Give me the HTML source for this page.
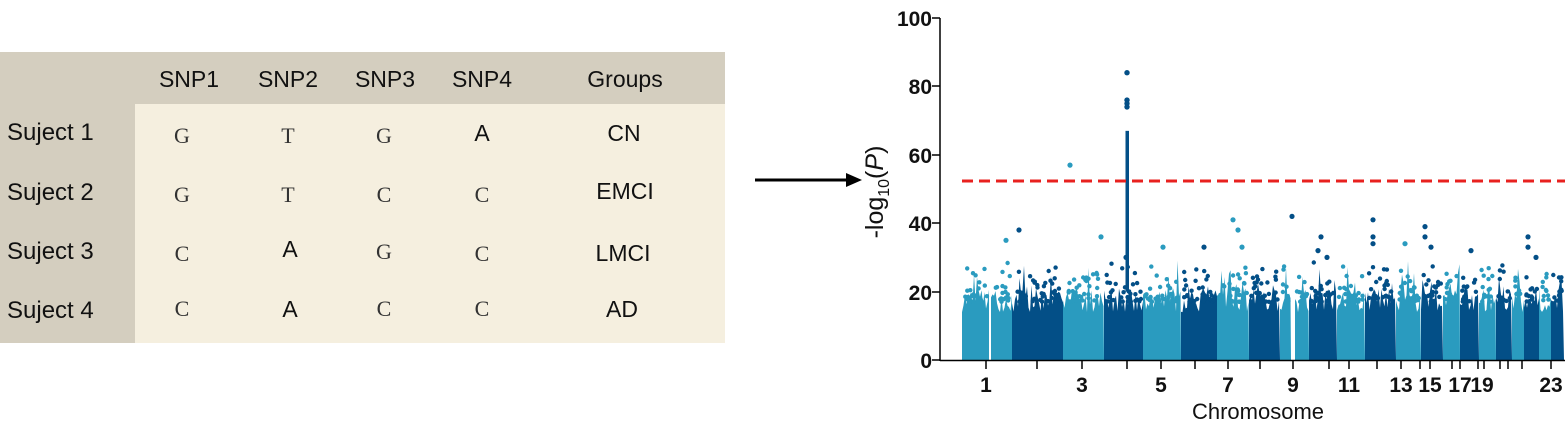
<!DOCTYPE html>
<html><head><meta charset="utf-8"><style>
body{margin:0;width:1565px;height:427px;background:#fff;position:relative;overflow:hidden;font-family:"Liberation Sans",sans-serif}
.t{position:absolute;font-size:23px;color:#111;transform:translateX(-50%);white-space:nowrap}
.l{position:absolute;font-size:24px;color:#111;white-space:nowrap;left:7px}
.s{font-family:"Liberation Serif",serif;font-size:22px;color:#333}
</style></head><body>
<div style="position:absolute;left:0;top:52px;width:725px;height:291px;background:#d4cebf"></div>
<div style="position:absolute;left:135px;top:104px;width:590px;height:239px;background:#f5efdf"></div>
<div class="t" style="left:189px;top:66px">SNP1</div>
<div class="t" style="left:288px;top:66px">SNP2</div>
<div class="t" style="left:385px;top:66px">SNP3</div>
<div class="t" style="left:482px;top:66px">SNP4</div>
<div class="t" style="left:625px;top:66px">Groups</div>
<div class="l" style="top:119px">Suject 1</div>
<div class="l" style="top:179px">Suject 2</div>
<div class="l" style="top:238px">Suject 3</div>
<div class="l" style="top:297px">Suject 4</div>
<div class="t s" style="left:182px;top:123px">G</div><div class="t s" style="left:288px;top:123px">T</div><div class="t s" style="left:384px;top:123px">G</div><div class="t" style="left:482px;top:120px">A</div><div class="t" style="left:624px;top:120px">CN</div>
<div class="t s" style="left:182px;top:182px">G</div><div class="t s" style="left:288px;top:182px">T</div><div class="t s" style="left:384px;top:182px">C</div><div class="t s" style="left:482px;top:182px">C</div><div class="t" style="left:625px;top:178px">EMCI</div>
<div class="t s" style="left:182px;top:241px">C</div><div class="t" style="left:290px;top:236px">A</div><div class="t s" style="left:384px;top:239px">G</div><div class="t s" style="left:482px;top:241px">C</div><div class="t" style="left:623px;top:240px">LMCI</div>
<div class="t s" style="left:182px;top:296px">C</div><div class="t" style="left:290px;top:296px">A</div><div class="t s" style="left:384px;top:296px">C</div><div class="t s" style="left:482px;top:296px">C</div><div class="t" style="left:622px;top:296px">AD</div>
<svg width="1565" height="427" style="position:absolute;left:0;top:0" id="sv">
<line x1="755" y1="180" x2="850" y2="180" stroke="#000" stroke-width="3"/>
<polygon points="862,180 846,173 846,187" fill="#000"/>
<g id="bands"></g>
<line x1="940" y1="18" x2="940" y2="361" stroke="#000" stroke-width="1.5"/>
<line x1="940" y1="360.5" x2="1565" y2="360.5" stroke="#000" stroke-width="1.5"/>
<g stroke="#000" stroke-width="1.5">
<line x1="932" y1="18" x2="940" y2="18"/><line x1="932" y1="86" x2="940" y2="86"/><line x1="932" y1="155" x2="940" y2="155"/><line x1="932" y1="223" x2="940" y2="223"/><line x1="932" y1="292" x2="940" y2="292"/><line x1="932" y1="360" x2="940" y2="360"/>
</g>
<g font-family="Liberation Sans Narrow,Liberation Sans,sans-serif" font-weight="bold" font-size="21" text-anchor="end" fill="#111">
<text x="932" y="26">100</text><text x="932" y="94">80</text><text x="932" y="163">60</text><text x="932" y="231">40</text><text x="932" y="300">20</text><text x="932" y="368">0</text>
</g>
<g id="xt" stroke="#000" stroke-width="1.5"></g>
<g font-family="Liberation Sans Narrow,Liberation Sans,sans-serif" font-weight="bold" font-size="21" text-anchor="middle" fill="#111">
<text x="986" y="392">1</text><text x="1082" y="392">3</text><text x="1161" y="392">5</text><text x="1228" y="392">7</text><text x="1293" y="392">9</text><text x="1349" y="392">11</text><text x="1401" y="392">13</text><text x="1430" y="392">15</text><text x="1460" y="392">17</text><text x="1482" y="392">19</text><text x="1551" y="392">23</text>
</g>
<text x="1258" y="419" font-size="22" text-anchor="middle" fill="#111">Chromosome</text>
<text transform="translate(883,192) rotate(-90)" font-size="25" text-anchor="middle" fill="#111">-log<tspan font-size="16" dy="6">10</tspan><tspan dy="-6">(</tspan><tspan font-style="italic">P</tspan>)</text>
<line x1="962" y1="181" x2="1565" y2="181" stroke="#e8211f" stroke-width="3" stroke-dasharray="11,6"/>
</svg>
<script>
var B=[[962,989,0],[991,1012,0],[1012,1063,1],[1063,1104,0],[1104,1143,1],[1143,1181,0],[1181,1217,1],[1217,1249,0],[1249,1280,1],[1280,1291,0],[1295,1309,0],[1309,1337,1],[1337,1365,0],[1365,1396,1],[1396,1421,0],[1421,1443,1],[1443,1460,0],[1460,1479,1],[1479,1496,0],[1496,1512,1],[1512,1524,0],[1524,1539,1],[1539,1551,0],[1551,1564,1]];
var s=7;function r(){s=(s*16807)%2147483647;return s/2147483647;}
var g=document.getElementById('bands'),h='';
function Y(v){return 360-v*3.42;}
B.forEach(function(b){var c=b[2]?'#034f87':'#2a9bbf';var p=b[0]+',360 ';
for(var x=b[0];x<=b[1];x+=1.5){var v=14+r()*7;if(r()<0.2)v+=r()*9;p+=x.toFixed(1)+','+Y(v).toFixed(1)+' ';}
p+=b[1]+',360';h+='<polygon points="'+p+'" fill="'+c+'"/>';
for(var i=0;i<(b[1]-b[0])*0.8;i++){var x=b[0]+2+r()*(b[1]-b[0]-4),v=17+r()*r()*12;h+='<circle cx="'+x.toFixed(1)+'" cy="'+Y(v).toFixed(1)+'" r="2.2" fill="'+c+'"/>';}});
var sp=[[1019,38,1],[1006,35,0],[1070,57,0],[1101,36,0],[1126,30,1],[1163,33,0],[1204,33,1],[1233,41,0],[1238,38,0],[1242,33,0],[1292,42,1],[1321,36,1],[1318,32,1],[1327,30,1],[1373,41,1],[1373,36,1],[1373,34,1],[1405,34,0],[1425,39,1],[1425,36,1],[1431,33,1],[1471,32,1],[1528,36,1],[1528,33,1],[1536,30,1]];
sp.forEach(function(q){h+='<circle cx="'+q[0]+'" cy="'+Y(q[1]).toFixed(1)+'" r="2.6" fill="'+(q[2]?'#034f87':'#2a9bbf')+'"/>';});
h+='<rect x="1125.5" y="'+Y(67)+'" width="3.5" height="'+(Y(20)-Y(67))+'" fill="#034f87"/>';
[84,76,75,74].forEach(function(v){h+='<circle cx="1127" cy="'+Y(v)+'" r="2.7" fill="#034f87"/>';});
g.innerHTML=h;
var t='';[986,1037,1082,1127,1161,1195,1228,1260,1293,1329,1349,1377,1401,1420,1430,1452,1460,1478,1484,1500,1508,1522,1551].forEach(function(x){t+='<line x1="'+x+'" y1="361" x2="'+x+'" y2="369"/>';});
document.getElementById('xt').innerHTML=t;
</script>
</body></html>
